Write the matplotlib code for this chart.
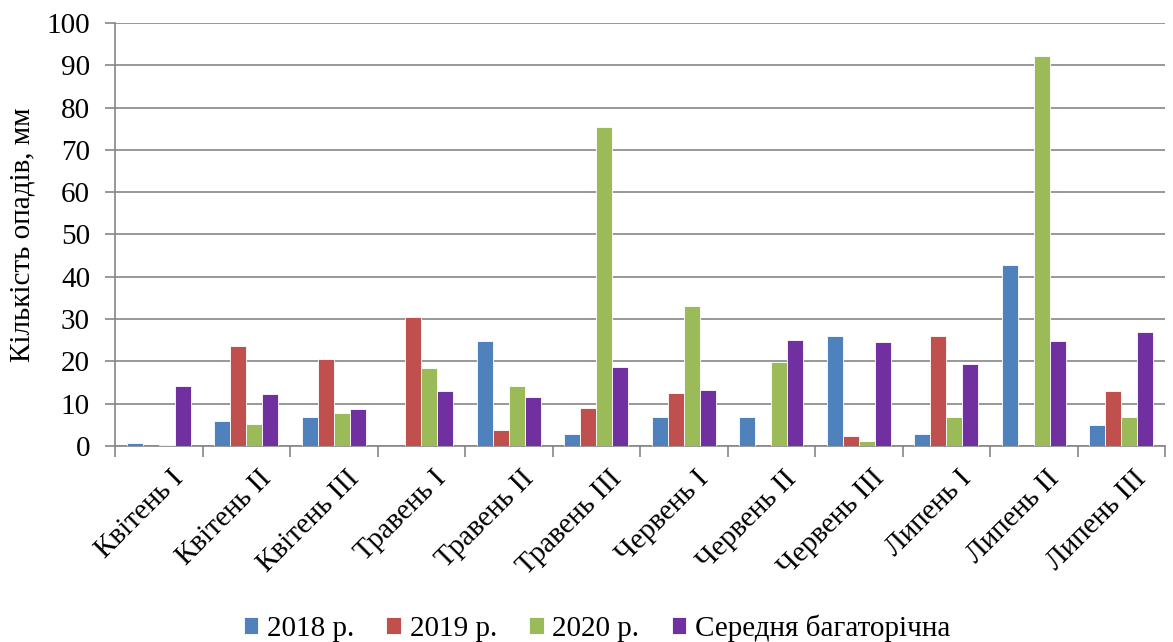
import matplotlib
matplotlib.use("Agg")
import matplotlib.pyplot as plt
import matplotlib.transforms as mtransforms
import numpy as np

categories = ["Квітень I", "Квітень II", "Квітень III", "Травень I", "Травень II", "Травень III",
              "Червень I", "Червень II", "Червень III", "Липень I", "Липень II", "Липень III"]
series_names = ["2018 р.", "2019 р.", "2020 р.", "Середня багаторічна"]
y2018 = [0.8, 5.9, 6.9, 0.0, 24.9, 2.8, 6.9, 6.9, 25.9, 2.8, 42.9, 4.9]
y2019 = [0.0, 23.7, 20.6, 30.5, 3.7, 8.9, 12.6, 0.0, 2.4, 25.9, 0.0, 12.9]
y2020 = [0.3, 5.2, 7.9, 18.5, 14.1, 75.5, 33.0, 19.8, 1.3, 6.9, 92.2, 6.9]
ymean = [14.1, 12.3, 8.8, 13.1, 11.6, 18.7, 13.3, 25.0, 24.7, 19.5, 24.9, 27.0]
colors = ["#4F81BD", "#C0504D", "#9BBB59", "#7030A0"]

plt.rcParams['font.family'] = ['Liberation Serif', 'DejaVu Serif']
FS = 21

fig = plt.figure(figsize=(11.73, 6.42), dpi=100)
ax = fig.add_axes([115/1173, 1 - 446/642, 1050/1173, 423/642])

x = np.arange(len(categories))
w = 0.183
data = [y2018, y2019, y2020, ymean]
for i, (vals, c, name) in enumerate(zip(data, colors, series_names)):
    ax.bar(x + (i - 1.5) * w, vals, width=w, color=c, label=name,
           edgecolor="white", linewidth=0.6, zorder=3)

grid_c = "#868686"
ax.set_ylim(0, 100)
ax.set_xlim(-0.5, len(categories) - 0.5)
ax.set_yticks(np.arange(0, 101, 10))
ax.yaxis.grid(True, color=grid_c, linewidth=1.2, zorder=0)
for s in ["top", "right"]:
    ax.spines[s].set_visible(False)
for s in ["left", "bottom"]:
    ax.spines[s].set_color(grid_c)
    ax.spines[s].set_linewidth(1.2)
ax.tick_params(axis="y", length=7, color=grid_c, width=1.2, labelsize=FS, pad=11)
ax.set_xticks(np.arange(-0.5, len(categories) + 0.5, 1), minor=False)
ax.set_xticklabels([])
ax.tick_params(axis="x", length=8, color=grid_c, width=1.2)
ax.set_xticks(x, minor=True)
ax.set_xticklabels(categories, minor=True, rotation=45, ha="right", rotation_mode="anchor", fontsize=FS)
ax.tick_params(axis="x", which="minor", length=0, pad=14)
offset = mtransforms.ScaledTranslation(12/100, 0, fig.dpi_scale_trans)
for lab in ax.get_xticklabels(minor=True):
    lab.set_transform(lab.get_transform() + offset)

ax.set_ylabel("Кількість опадів, мм", fontsize=FS)
ax.yaxis.set_label_coords((36 - 115)/1050, 0.5)

ax.legend(loc="center", bbox_to_anchor=(597/1173, 1 - 628/642), bbox_transform=fig.transFigure,
          ncol=4, frameon=False, fontsize=FS, handlelength=0.5, handleheight=0.5,
          handletextpad=0.3, columnspacing=1.1)

fig.savefig("out.png", dpi=100)
